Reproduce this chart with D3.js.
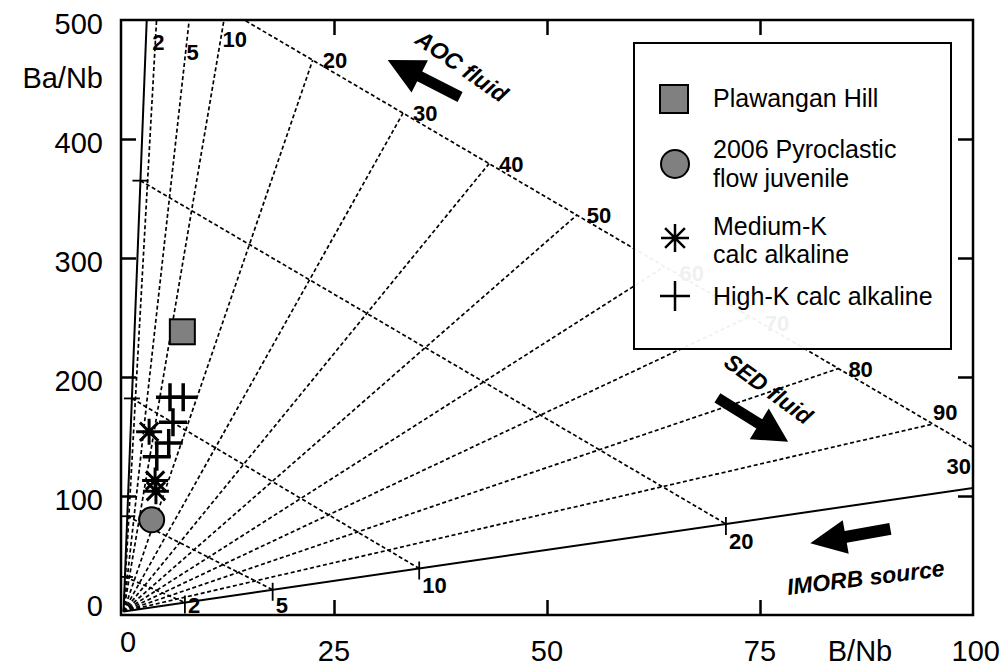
<!DOCTYPE html>
<html>
<head>
<meta charset="utf-8">
<script src="https://cdn.jsdelivr.net/npm/d3@7"></script>
<style>
  body { margin: 0; background: #fff; }
  svg { display: block; }
  text { font-family: Arial, "Liberation Sans", Helvetica, sans-serif; fill: #000; }
</style>
</head>
<body>
<svg id="chart" width="1001" height="666"></svg>
<script>
// ---- Samples (B/Nb, Ba/Nb) ----
const plawanganHill   = [[7.2, 238]];
const pyroclastic2006 = [[3.6, 80]];
const mediumK         = [[3.3, 154], [4.0, 113], [4.1, 104]];
const highK           = [[5.75, 183], [7.3, 183], [6.1, 162], [5.6, 144.5], [4.2, 133]];

// ---- Axis ticks ----
const xTicks = [0, 25, 50, 75, 100];
const yTicks = [0, 100, 200, 300, 400, 500];

// ---- Slab-fluid addition model ----
const sourcePoint = [0.3, 3];          // IMORB source
const aocLineEnd  = [3.02, 500];       // AOC-fluid addition trend
const sedLineEnd  = [100, 106.7];      // SED-fluid addition trend
const fluidPercent = [2, 5, 10, 20, 30];         // % fluid added
const aocTickBaNb  = [32, 83, 182, 365, 547];    // Ba/Nb of tick on AOC trend
const sedTickBNb   = [7.5, 17.8, 35, 71, 106.5]; // B/Nb of tick on SED trend
const sedShareLabels = [2, 5, 10, 20, 30, 40, 50, 60, 70, 80, 90]; // % SED fluid in total fluid
const sedShareBNb    = [4.5, 8.4, 12.3, 22.5, 33.1, 43.2, 53.5, 63.8, 73.8, 84.2, 95.3];

const svg = d3.select("#chart");
const x = d3.scaleLinear().domain([0, 100]).range([121, 973]);
const y = d3.scaleLinear().domain([0, 500]).range([615, 20]);

// points on the two trends
const aocPt = ba => [sourcePoint[0] + (ba - sourcePoint[1]) / (aocLineEnd[1] - sourcePoint[1]) * (aocLineEnd[0] - sourcePoint[0]), ba];
const sedPt = b  => [b, sourcePoint[1] + (b - sourcePoint[0]) / (sedLineEnd[0] - sourcePoint[0]) * (sedLineEnd[1] - sourcePoint[1])];

svg.append("defs").append("clipPath").attr("id", "plot")
  .append("rect").attr("x", x(0)).attr("y", y(500)).attr("width", x(100) - x(0)).attr("height", y(0) - y(500));

const grid = svg.append("g").attr("clip-path", "url(#plot)");
const line = d3.line().x(d => x(d[0])).y(d => y(d[1]));
const dash = { stroke: "#000", "stroke-width": 1.7, "stroke-dasharray": "4,2.6", fill: "none" };
function styled(sel, st) { Object.entries(st).forEach(([k, v]) => sel.attr(k, v)); return sel; }

// iso-percent lines joining equal fluid additions on the two trends
const isoLines = fluidPercent.map((f, i) => [aocPt(aocTickBaNb[i]), sedPt(sedTickBNb[i])]);
isoLines.forEach(seg => styled(grid.append("path").attr("d", line(seg)), dash));

// fan of AOC/SED fluid proportions, ending on the outermost iso line
const outer = isoLines[isoLines.length - 1];
const onOuter = b => [b, outer[0][1] + (b - outer[0][0]) / (outer[1][0] - outer[0][0]) * (outer[1][1] - outer[0][1])];
const fanEnds = sedShareBNb.map(onOuter);
fanEnds.forEach(p => styled(grid.append("path").attr("d", line([sourcePoint, p])), dash));

// solid fluid-addition trends
[aocLineEnd, sedLineEnd].forEach(e =>
  grid.append("path").attr("d", line([sourcePoint, e])).attr("stroke", "#000").attr("stroke-width", 2).attr("fill", "none"));

// ticks on trends
fluidPercent.forEach((f, i) => {
  const a = aocPt(aocTickBaNb[i]);
  grid.append("line").attr("x1", x(a[0]) - 8).attr("x2", x(a[0]) + 8).attr("y1", y(a[1])).attr("y2", y(a[1]))
    .attr("stroke", "#000").attr("stroke-width", 1.8);
  const s = sedPt(sedTickBNb[i]);
  grid.append("line").attr("x1", x(s[0])).attr("x2", x(s[0])).attr("y1", y(s[1]) - 7).attr("y2", y(s[1]) + 11)
    .attr("stroke", "#000").attr("stroke-width", 1.8);
});

// ---- Frame and axes ----
const axG = svg.append("g");
axG.append("g").attr("transform", `translate(0,${y(0)})`)
  .call(d3.axisBottom(x).tickValues([25, 50, 75]).tickSize(-15).tickFormat(""));
axG.append("g").attr("transform", `translate(0,${y(500)})`)
  .call(d3.axisTop(x).tickValues([25, 50, 75]).tickSize(-15).tickFormat(""));
axG.append("g").attr("transform", `translate(${x(0)},0)`)
  .call(d3.axisLeft(y).tickValues([100, 200, 300, 400]).tickSize(-15).tickFormat(""));
axG.append("g").attr("transform", `translate(${x(100)},0)`)
  .call(d3.axisRight(y).tickValues([100, 200, 300, 400]).tickSize(-15).tickFormat(""));
axG.selectAll(".domain").remove();
axG.selectAll(".tick line").attr("stroke", "#000").attr("stroke-width", 2.5);
svg.append("rect").attr("x", x(0)).attr("y", y(500)).attr("width", x(100) - x(0)).attr("height", y(0) - y(500))
  .attr("fill", "none").attr("stroke", "#000").attr("stroke-width", 2.5);

// tick labels
const tickFont = 29;
yTicks.forEach(v => svg.append("text").attr("x", 103).attr("y", v === 0 ? y(v) + 1 : y(v) + 14)
  .attr("text-anchor", "end").attr("font-size", tickFont).text(v));
svg.append("text").attr("x", 103).attr("y", 88).attr("text-anchor", "end").attr("font-size", tickFont).text("Ba/Nb");
xTicks.forEach(v => svg.append("text")
  .attr("x", v === 0 ? x(v) + 7 : (v === 100 ? 1000 : x(v)))
  .attr("y", v === 0 ? 652 : 661)
  .attr("text-anchor", v === 100 ? "end" : "middle").attr("font-size", tickFont).text(v));
svg.append("text").attr("x", 860).attr("y", 661).attr("text-anchor", "middle").attr("font-size", tickFont).text("B/Nb");

// ---- Grid labels ----
const lab = (px, py, t, anchor) => svg.append("text").attr("x", px).attr("y", py)
  .attr("text-anchor", anchor || "start").attr("font-size", 22).attr("font-weight", "bold").text(t);

// % fluid labels along the SED trend
fluidPercent.slice(0, 4).forEach((f, i) => {
  const s = sedPt(sedTickBNb[i]);
  lab(x(s[0]) + 3, Math.min(y(s[1]) + 25, 613), f);
});
lab(971, 474, fluidPercent[4], "end");

// SED-share labels: top three where the fan meets the frame, the rest at the outer iso line
const topLabelOffsets = [[-3, 50], [1, 60], [2, 47]];
[0, 1, 2].forEach(i => {
  const yy = topLabelOffsets[i][1];
  const ba = y.invert(yy - 6);
  const bx = sourcePoint[0] + (ba - sourcePoint[1]) / (fanEnds[i][1] - sourcePoint[1]) * (fanEnds[i][0] - sourcePoint[0]);
  lab(x(bx) + topLabelOffsets[i][0], yy, sedShareLabels[i]);
});
for (let i = 3; i < sedShareLabels.length; i++) {
  const p = fanEnds[i];
  const off = i === 10 ? [0, -4] : (i === 7 || i === 8 ? [15, 14] : [10, 8]);
  lab(x(p[0]) + off[0], y(p[1]) + off[1], sedShareLabels[i]);
}

// ---- Arrows and captions ----
function arrow(tail, tip, shaftW, headL, headW) {
  const x0 = x(tail[0]), y0 = y(tail[1]), x1 = x(tip[0]), y1 = y(tip[1]);
  const L = Math.hypot(x1 - x0, y1 - y0);
  const ang = Math.atan2(y1 - y0, x1 - x0) * 180 / Math.PI;
  const pts = [[0, -shaftW / 2], [L - headL, -shaftW / 2], [L - headL, -headW / 2], [L, 0],
               [L - headL, headW / 2], [L - headL, shaftW / 2], [0, shaftW / 2]];
  svg.append("polygon").attr("points", pts.map(p => p.join(",")).join(" "))
    .attr("transform", `translate(${x0},${y0}) rotate(${ang})`).attr("fill", "#000");
}
function caption(at, angle, t) {
  svg.append("text").attr("transform", `translate(${x(at[0])},${y(at[1])}) rotate(${angle})`)
    .attr("text-anchor", "middle").attr("dominant-baseline", "central")
    .attr("font-size", 23).attr("font-weight", "bold").attr("font-style", "italic").text(t);
}
arrow([39.8, 435.3], [31.3, 466.4], 11, 36, 36);
caption([40.0, 461], 35, "AOC fluid");
arrow([70.0, 182.5], [78.3, 145.5], 11, 34, 36);
caption([76.0, 190], 36, "SED fluid");
arrow([90.3, 72.3], [80.9, 60.3], 12, 36, 34);
caption([87.4, 31.5], -7, "IMORB source");

// ---- Samples ----
const marks = svg.append("g");
function cross(g, cx, cy, r, w) {
  g.append("path").attr("d", `M${cx - r},${cy}H${cx + r}M${cx},${cy - r}V${cy + r}`)
    .attr("stroke", "#000").attr("stroke-width", w).attr("fill", "none");
}
function asterisk(g, cx, cy, r, w) {
  const d = r * Math.SQRT1_2;
  g.append("path").attr("d", `M${cx - r},${cy}H${cx + r}M${cx},${cy - r}V${cy + r}M${cx - d},${cy - d}L${cx + d},${cy + d}M${cx - d},${cy + d}L${cx + d},${cy - d}`)
    .attr("stroke", "#000").attr("stroke-width", w).attr("fill", "none");
}
highK.forEach(d => cross(marks, x(d[0]), y(d[1]), 14, 3.5));
mediumK.forEach(d => asterisk(marks, x(d[0]), y(d[1]), 13, 3));
pyroclastic2006.forEach(d => marks.append("circle").attr("cx", x(d[0])).attr("cy", y(d[1])).attr("r", 12.5)
  .attr("fill", "#808080").attr("stroke", "#000").attr("stroke-width", 2));
plawanganHill.forEach(d => marks.append("rect").attr("x", x(d[0]) - 12.5).attr("y", y(d[1]) - 12.5)
  .attr("width", 25).attr("height", 25).attr("fill", "#808080").attr("stroke", "#000").attr("stroke-width", 2));

// ---- Legend ----
const lg = svg.append("g").attr("transform", "translate(634,43)");
lg.append("rect").attr("width", 317).attr("height", 306).attr("fill", "#fff").attr("fill-opacity", 0.94)
  .attr("stroke", "#000").attr("stroke-width", 2);
lg.append("rect").attr("x", 26).attr("y", 42).attr("width", 28).attr("height", 28)
  .attr("fill", "#808080").attr("stroke", "#000").attr("stroke-width", 2);
lg.append("circle").attr("cx", 41).attr("cy", 121).attr("r", 14)
  .attr("fill", "#808080").attr("stroke", "#000").attr("stroke-width", 2);
asterisk(lg, 41, 195, 14, 2.5);
cross(lg, 41, 253, 15, 2.5);
const legendRows = [["Plawangan Hill", 64], ["2006 Pyroclastic", 115], ["flow juvenile", 144],
                    ["Medium-K", 192], ["calc alkaline", 220], ["High-K calc alkaline", 262]];
legendRows.forEach(([t, by]) => lg.append("text").attr("x", 79).attr("y", by).attr("font-size", 25).text(t));
</script>
</body>
</html>
